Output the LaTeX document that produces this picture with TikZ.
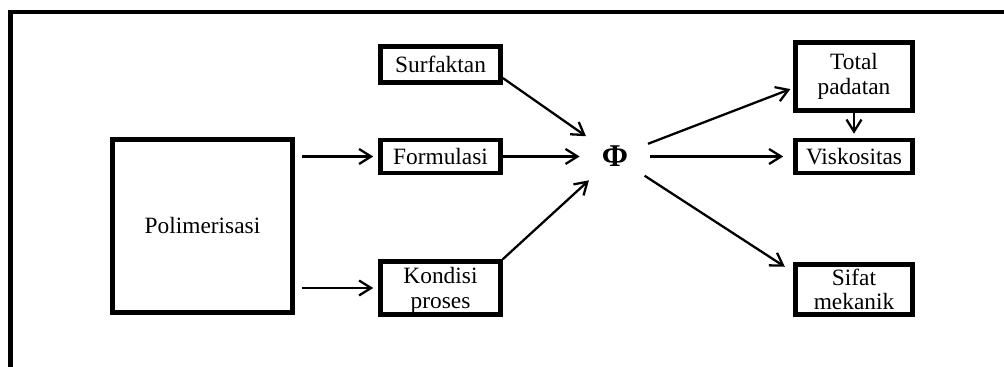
\documentclass[tikz,border=0pt]{standalone}
\usepackage{fontspec}
\setmainfont{Liberation Serif}
\usetikzlibrary{arrows.meta}

\def\boxLine{2.6pt}
\def\arrowLine{1.3pt}

\begin{document}
\begin{tikzpicture}[
    factorbox/.style={draw, line width=\boxLine, align=center, inner sep=0pt,
      font=\fontsize{13.3}{13.8}\selectfont},
    arr/.style={-{Straight Barb[length=0.24cm, width=0.3cm]}, line width=\arrowLine}
  ]
    % Define parameters
    \def\xmax{20.08}
    \def\ymax{7.34}
    \useasboundingbox (0,0) rectangle (\xmax,\ymax);

    % frame
    \draw[line width=2.6pt] (0.21,0) -- (0.21,7.1) -- (\xmax,7.1);

    \node[factorbox, minimum width=3.6cm, minimum height=3.46cm] (pol) at (4.05,2.82) {Polimerisasi};

    \node[factorbox, minimum width=2.4cm, minimum height=0.72cm] (surf) at (8.81,6.05) {Surfaktan};
    \node[factorbox, minimum width=2.4cm, minimum height=0.66cm] (form) at (8.81,4.21) {Formulasi};
    \node[factorbox, minimum width=2.4cm, minimum height=1.06cm, text depth=0pt] (kond) at (8.81,1.58) {Kondisi\\proses};

    \node[circle, minimum size=1.4cm, inner sep=0pt, font=\fontsize{18}{20}\selectfont\bfseries] (phi) at (12.3,4.21) {Φ};

    \node[factorbox, minimum width=2.34cm, minimum height=1.36cm] (total) at (17.08,5.81) {Total\\padatan};
    \node[factorbox, minimum width=2.34cm, minimum height=0.66cm] (visk) at (17.08,4.21) {Viskositas};
    \node[factorbox, minimum width=2.34cm, minimum height=1.0cm, text depth=0pt] (sifat) at (17.08,1.55) {Sifat\\mekanik};

    \draw[arr, shorten <=0.14cm, shorten >=0.1cm] (pol.east |- form.west) -- (form.west);
    \draw[arr, shorten <=0.14cm, shorten >=0.1cm] (pol.east |- kond.west) -- (kond.west);

    \draw[arr] ([yshift=-0.27cm]surf.east) -- (phi);
    \draw[arr] (form.east) -- (phi);
    \draw[arr] (kond.north east) -- (phi);

    \draw[arr, shorten >=0.06cm] (phi) -- ([yshift=-0.23cm]total.west);
    \draw[arr, shorten >=0.2cm] (phi) -- (visk.west);
    \draw[arr, shorten >=0.2cm] (phi) -- ([yshift=-0.2cm]sifat.north west);
    \draw[arr, shorten >=0.08cm] (total.south) -- (visk.north);
\end{tikzpicture}
\end{document}
